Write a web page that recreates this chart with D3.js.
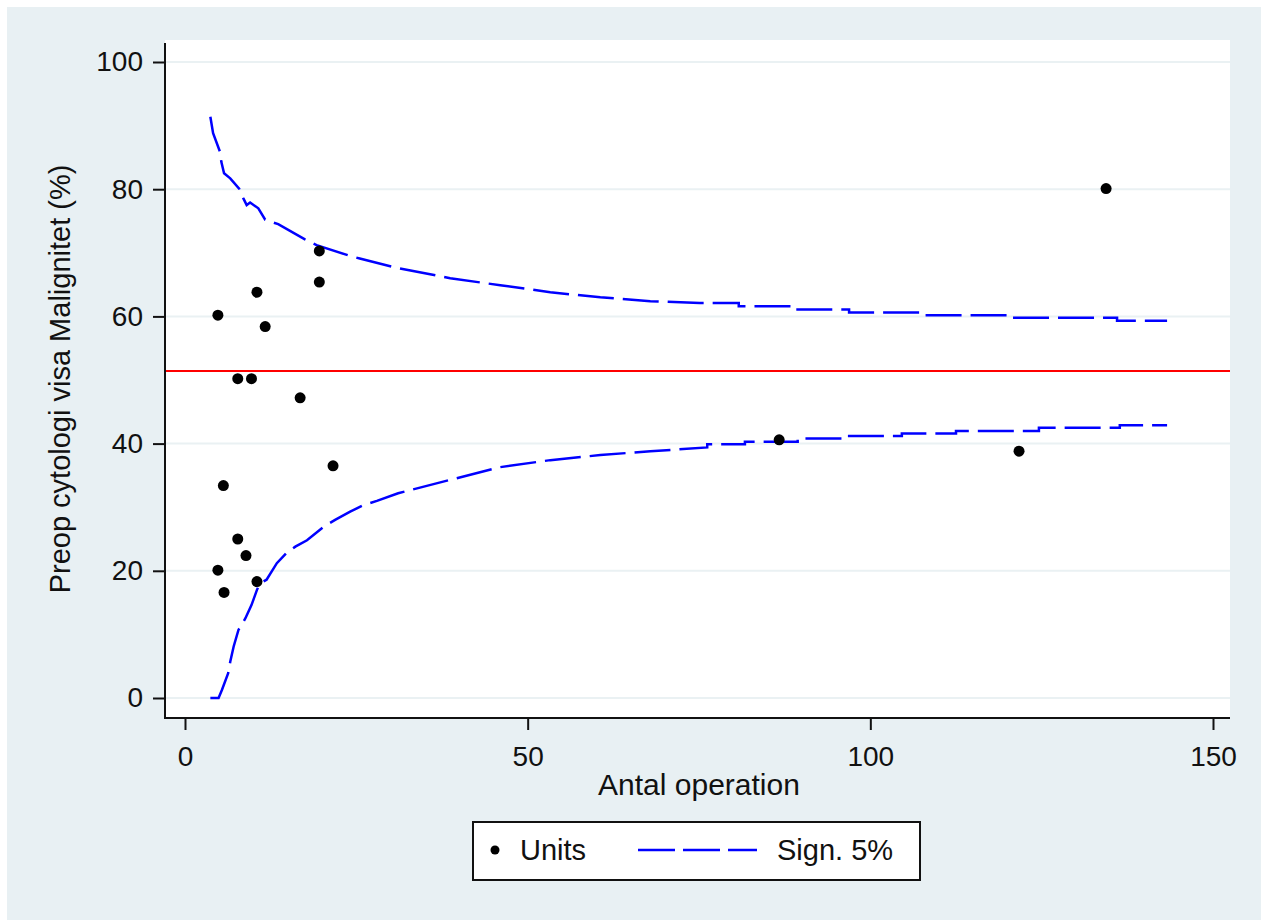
<!DOCTYPE html>
<html>
<head>
<meta charset="utf-8">
<title>Funnel plot</title>
<style>
  body { margin: 0; background: #fff; }
  text { font-family: "Liberation Sans", Arial, sans-serif; fill: #111; }
</style>
</head>
<body>
<div id="chart"></div>
<script src="https://d3js.org/d3.v7.min.js"></script>
<script>
(function(d3) {
  'use strict';

  // units: number of operations and share of malignant preop cytology (%)
  var unitN   = [4.8, 4.8, 5.6, 5.7, 7.7, 7.7, 8.9, 9.7, 10.5, 10.5, 11.7, 16.8, 19.6, 19.6, 21.6, 86.7, 121.7, 134.4];
  var unitPct = [60.2, 20.1, 33.4, 16.6, 50.2, 25.0, 22.4, 50.2, 63.8, 18.3, 58.4, 47.2, 70.3, 65.4, 36.5, 40.6, 38.8, 80.1];

  var meanPct = 51.4;

  // 5% control limits as [n, pct]
  var upperLimit = [
    [3.7, 91.4], [4.1, 88.8], [5.1, 85.9], [5.3, 84.3], [5.7, 82.5], [6.6, 81.7],
    [7.9, 80.1], [8.5, 78.6], [9.0, 77.5], [9.5, 77.9], [10.7, 77.0], [11.7, 75.2],
    [13.6, 74.5], [17.5, 72.1], [19.2, 71.2], [24.1, 69.5], [25.5, 69.1], [30.6, 67.7],
    [38.7, 66.0], [46.0, 64.9], [53.3, 63.8], [60.6, 63.0], [67.9, 62.4], [75.1, 62.1],
    [80.8, 62.1], [80.8, 61.6], [88.7, 61.6], [88.7, 61.1], [96.9, 61.1], [96.9, 60.6],
    [107.7, 60.6], [107.7, 60.2], [120.4, 60.2], [120.4, 59.8], [136.0, 59.8],
    [136.0, 59.3], [143.3, 59.3]
  ];
  var lowerLimit = [
    [3.7, 0.0], [4.9, 0.0], [5.4, 1.3], [6.3, 3.9], [6.6, 5.7], [7.1, 8.1],
    [7.8, 10.7], [8.8, 12.5], [9.7, 14.6], [10.5, 17.0], [10.9, 18.0], [11.9, 18.6],
    [13.4, 21.2], [14.8, 22.8], [16.1, 23.8], [17.8, 24.8], [20.2, 26.9], [21.9, 28.0],
    [24.1, 29.3], [26.0, 30.3], [28.0, 31.0], [31.1, 32.2], [38.7, 34.3], [46.0, 36.3],
    [53.3, 37.4], [60.6, 38.2], [67.9, 38.8], [76.2, 39.4], [76.2, 39.9], [81.7, 39.9],
    [81.7, 40.3], [89.4, 40.3], [89.4, 40.8], [96.0, 40.8], [96.0, 41.2], [104.6, 41.2],
    [104.6, 41.6], [112.5, 41.6], [112.5, 42.0], [124.6, 42.0], [124.6, 42.5],
    [136.4, 42.5], [136.4, 42.9], [143.3, 42.9]
  ];

  var xTicks = [0, 50, 100, 150];
  var yTicks = [0, 20, 40, 60, 80, 100];

  var width = 1261;
  var height = 920;
  var plot = { left: 165, top: 40, right: 1230, bottom: 718 };

  var bg = '#e8f0f3';

  var svg = d3.select('#chart')
    .append('svg')
    .attr('width', width)
    .attr('height', height);

  svg.append('rect')
    .attr('x', 7).attr('y', 7)
    .attr('width', width - 7).attr('height', height - 7)
    .attr('fill', bg);

  svg.append('rect')
    .attr('x', plot.left).attr('y', plot.top)
    .attr('width', plot.right - plot.left).attr('height', plot.bottom - plot.top)
    .attr('fill', '#fff');

  var x = d3.scaleLinear().domain([0, 150]).range([185, 1213]);
  var y = d3.scaleLinear().domain([0, 100]).range([698, 62]);

  // grid
  svg.append('g')
    .selectAll('line')
    .data(yTicks)
    .enter()
    .append('line')
    .attr('x1', plot.left).attr('x2', plot.right)
    .attr('y1', function(d) { return y(d); })
    .attr('y2', function(d) { return y(d); })
    .attr('stroke', '#eaf1f3')
    .attr('stroke-width', 2);

  // y axis
  var yAxis = svg.append('g')
    .attr('transform', 'translate(' + plot.left + ',0)')
    .call(d3.axisLeft(y).tickValues(yTicks).tickSize(12).tickPadding(10).tickSizeOuter(0));
  yAxis.select('.domain').remove();
  yAxis.append('line')
    .attr('x1', 0).attr('x2', 0)
    .attr('y1', plot.top + 3).attr('y2', plot.bottom + 1)
    .attr('stroke', '#111').attr('stroke-width', 2);

  // x axis
  var xAxis = svg.append('g')
    .attr('transform', 'translate(0,' + plot.bottom + ')')
    .call(d3.axisBottom(x).tickValues(xTicks).tickSize(12).tickPadding(16).tickSizeOuter(0));
  xAxis.select('.domain').remove();
  xAxis.append('line')
    .attr('x1', plot.left - 1).attr('x2', plot.right)
    .attr('y1', 0).attr('y2', 0)
    .attr('stroke', '#111').attr('stroke-width', 2);

  svg.selectAll('.tick line').attr('stroke', '#111').attr('stroke-width', 2);
  svg.selectAll('.tick text')
    .attr('font-size', 28)
    .attr('font-family', '"Liberation Sans", Arial, sans-serif')
    .attr('fill', '#111');

  // titles
  svg.append('text')
    .attr('x', 699).attr('y', 795)
    .attr('text-anchor', 'middle')
    .attr('font-size', 30)
    .text('Antal operation');

  svg.append('text')
    .attr('transform', 'translate(70,379) rotate(-90)')
    .attr('text-anchor', 'middle')
    .attr('font-size', 29)
    .text('Preop cytologi visa Malignitet (%)');

  // mean line
  svg.append('line')
    .attr('x1', plot.left + 1).attr('x2', plot.right)
    .attr('y1', y(meanPct)).attr('y2', y(meanPct))
    .attr('stroke', '#ff0000').attr('stroke-width', 2);

  // control limits
  var line = d3.line()
    .x(function(d) { return x(d[0]); })
    .y(function(d) { return y(d[1]); });

  [upperLimit, lowerLimit].forEach(function(lim) {
    svg.append('path')
      .attr('d', line(lim))
      .attr('fill', 'none')
      .attr('stroke', '#0000ff')
      .attr('stroke-width', 2.5)
      .attr('stroke-dasharray', '36,9');
  });

  // units
  svg.append('g')
    .selectAll('circle')
    .data(unitN)
    .enter()
    .append('circle')
    .attr('cx', function(d) { return x(d); })
    .attr('cy', function(d, i) { return y(unitPct[i]); })
    .attr('r', 5.5)
    .attr('fill', '#000');

  // legend
  var leg = svg.append('g');
  leg.append('rect')
    .attr('x', 473).attr('y', 822)
    .attr('width', 447).attr('height', 58)
    .attr('fill', '#fff')
    .attr('stroke', '#111')
    .attr('stroke-width', 2);
  leg.append('circle')
    .attr('cx', 495).attr('cy', 850).attr('r', 4.5).attr('fill', '#000');
  leg.append('text')
    .attr('x', 520).attr('y', 860)
    .attr('font-size', 29)
    .text('Units');
  leg.append('line')
    .attr('x1', 638).attr('x2', 757)
    .attr('y1', 850).attr('y2', 850)
    .attr('stroke', '#0000ff')
    .attr('stroke-width', 2.5)
    .attr('stroke-dasharray', '37,8');
  leg.append('text')
    .attr('x', 777).attr('y', 860)
    .attr('font-size', 29)
    .text('Sign. 5%');

})(window.d3);
</script>
</body>
</html>
